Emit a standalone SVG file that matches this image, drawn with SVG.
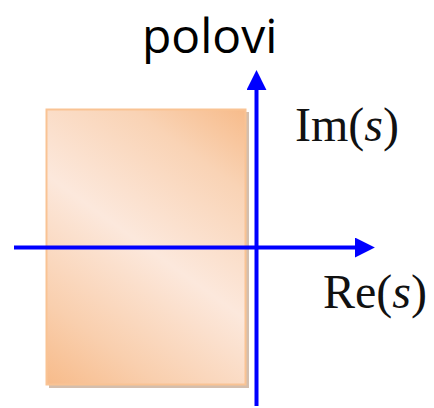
<svg xmlns="http://www.w3.org/2000/svg" width="434" height="408" viewBox="0 0 434 408">
<defs>
<linearGradient id="fill" gradientUnits="userSpaceOnUse" x1="46" y1="385" x2="246" y2="109">
<stop offset="0" stop-color="#f7bb8a"/>
<stop offset="0.2" stop-color="#f9cfae"/>
<stop offset="0.5" stop-color="#fce8dc"/>
<stop offset="0.8" stop-color="#f9d3b5"/>
<stop offset="1" stop-color="#f7bb8a"/>
</linearGradient>
<marker id="arr" markerUnits="userSpaceOnUse" markerWidth="20" markerHeight="20" viewBox="0 0 18 18" refX="1" refY="9" orient="auto">
<path d="M0,0 L18,9 L0,18 Z" fill="#0000ff"/>
</marker>
<style>
.axis{stroke:#0000ff;stroke-width:4;fill:none}
.lbl{font-family:"Liberation Serif","Times New Roman",serif;font-size:48px;fill:#111}
.title{font-family:"Open Sans","Noto Sans",sans-serif;font-size:48px;fill:#000}
</style>
</defs>
<g id="region">
<rect x="49" y="112" width="200" height="276" fill="#c9ae98" opacity="0.8"/>
<rect x="46.5" y="109.5" width="199" height="275" fill="url(#fill)" stroke="#f9c394" stroke-width="2"/>
</g>
<g id="title"><text class="title" x="142" y="53">polovi</text></g>
<g id="connectors">
<line class="axis" x1="14" y1="247.5" x2="356" y2="247.5" marker-end="url(#arr)"/>
<line class="axis" x1="256.5" y1="406" x2="256.5" y2="89" marker-end="url(#arr)"/>
</g>
<g id="im-label"><text class="lbl" x="295" y="141">Im(<tspan font-style="italic">s</tspan>)</text></g>
<g id="re-label"><text class="lbl" x="323" y="308">Re(<tspan font-style="italic">s</tspan>)</text></g>
</svg>
